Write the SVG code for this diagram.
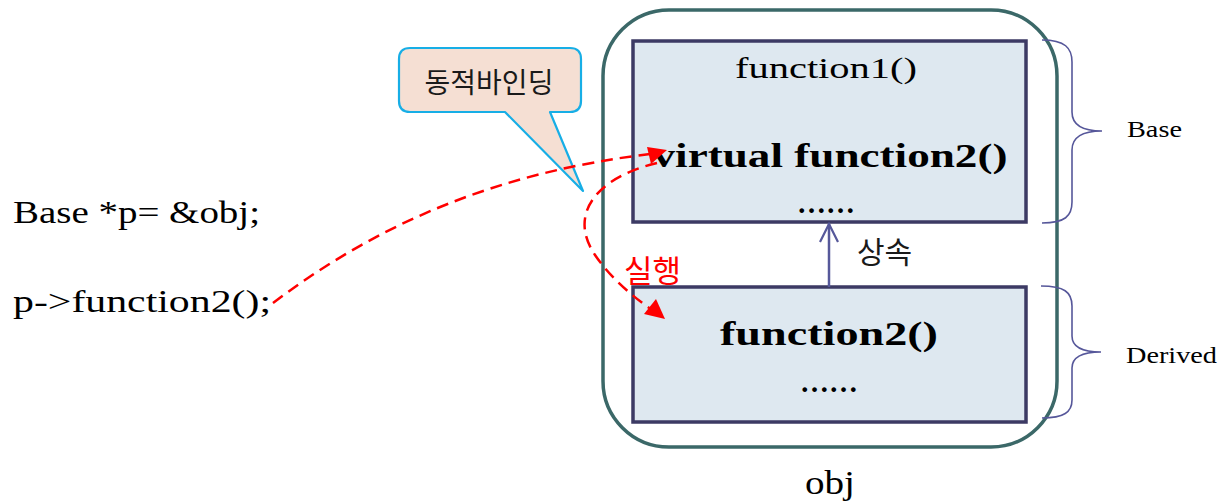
<svg xmlns="http://www.w3.org/2000/svg" width="1221" height="503" viewBox="0 0 1221 503">
<style>
.serif{font-family:"Liberation Serif","DejaVu Serif",serif;fill:#000}
.kr{font-family:"Noto Sans CJK KR","Noto Sans",sans-serif}
.box{fill:#dee8f0;stroke:#3c3a64;stroke-width:3.5}
.brace{fill:none;stroke:#56579a;stroke-width:1.6}
.red{fill:none;stroke:#ff0000;stroke-width:2.5;stroke-dasharray:12 7}
</style>
<defs>
<marker id="openArrow" markerWidth="24" markerHeight="24" refX="20" refY="10" orient="auto" markerUnits="userSpaceOnUse" viewBox="0 0 24 20">
<path d="M2,1 L20,10 L2,19" fill="none" stroke="#56589a" stroke-width="2.2"/>
</marker>
</defs>
<rect width="1221" height="503" fill="#fff"/>

<g id="obj">
<rect x="603" y="10" width="454" height="437" rx="66" ry="66" fill="none" stroke="#3b6868" stroke-width="3.5"/>
<text class="serif" x="830" y="494" font-size="34" text-anchor="middle" textLength="50" lengthAdjust="spacingAndGlyphs">obj</text>
</g>

<g id="base">
<rect class="box" x="633" y="41" width="393" height="181"/>
<text class="serif" x="826" y="78" font-size="30" text-anchor="middle" textLength="182" lengthAdjust="spacingAndGlyphs">function1()</text>
<text class="serif" x="830" y="167" font-size="33" font-weight="bold" text-anchor="middle" textLength="355" lengthAdjust="spacingAndGlyphs">virtual function2()</text>
<text class="serif" x="826" y="213" font-size="30" font-weight="bold" text-anchor="middle" textLength="58" lengthAdjust="spacingAndGlyphs">……</text>
</g>

<g id="derived">
<rect class="box" x="633" y="287" width="393" height="135"/>
<text class="serif" x="829" y="345" font-size="33" font-weight="bold" text-anchor="middle" textLength="218" lengthAdjust="spacingAndGlyphs">function2()</text>
<text class="serif" x="829" y="392" font-size="30" font-weight="bold" text-anchor="middle" textLength="58" lengthAdjust="spacingAndGlyphs">……</text>
</g>

<g id="base-brace">
<path class="brace" d="M1042,40 C1065,40 1072,48 1072,62 L1072,112 C1072,124 1080,131 1102,131 C1080,131 1072,138 1072,150 L1072,202 C1072,216 1065,223 1042,223"/>
<text class="serif" x="1127" y="137" font-size="23" textLength="55" lengthAdjust="spacingAndGlyphs">Base</text>
</g>

<g id="derived-brace">
<path class="brace" d="M1041,286 C1064,286 1072,292 1072,306 L1072,336 C1072,346 1080,352 1101,352 C1080,352 1072,358 1072,368 L1072,400 C1072,412 1064,418 1042,418"/>
<text class="serif" x="1126" y="363" font-size="23" textLength="91" lengthAdjust="spacingAndGlyphs">Derived</text>
</g>

<g id="callout">
<path d="M410,48 L570,48 Q581,48 581,59 L581,101 Q581,112 570,112 L550,112 L583,191 L505,112 L410,112 Q399,112 399,101 L399,59 Q399,48 410,48 Z" fill="#f5dfd3" stroke="#17aee6" stroke-width="2.2" stroke-linejoin="round"/>
<text class="kr" x="489" y="93" font-size="28" text-anchor="middle" fill="#1a1a1a">동적바인딩</text>
</g>

<g id="code">
<text class="serif" x="13" y="223" font-size="31" textLength="247" lengthAdjust="spacingAndGlyphs">Base *p= &amp;obj;</text>
<text class="serif" x="13" y="312" font-size="31" textLength="258" lengthAdjust="spacingAndGlyphs">p-&gt;function2();</text>
</g>

<g id="connectors">
<line x1="829" y1="287" x2="829" y2="224" stroke="#56589a" stroke-width="2.5" marker-end="url(#openArrow)"/>
<text class="kr" x="857" y="263" font-size="30" fill="#1a1a1a">상속</text>
<path class="red" d="M273,303 C380,222 500,172 650,154"/>
<path d="M647,147 L667,150 L651,164 Z" fill="#ff0000"/>
<path class="red" d="M657,163 C595,178 568,215 595,255 C612,280 635,298 652,310"/>
<path d="M644,314 L665,319 L656,299 Z" fill="#ff0000"/>
<text class="kr" x="624" y="282" font-size="31" fill="#ff0000">실행</text>
</g>
</svg>
